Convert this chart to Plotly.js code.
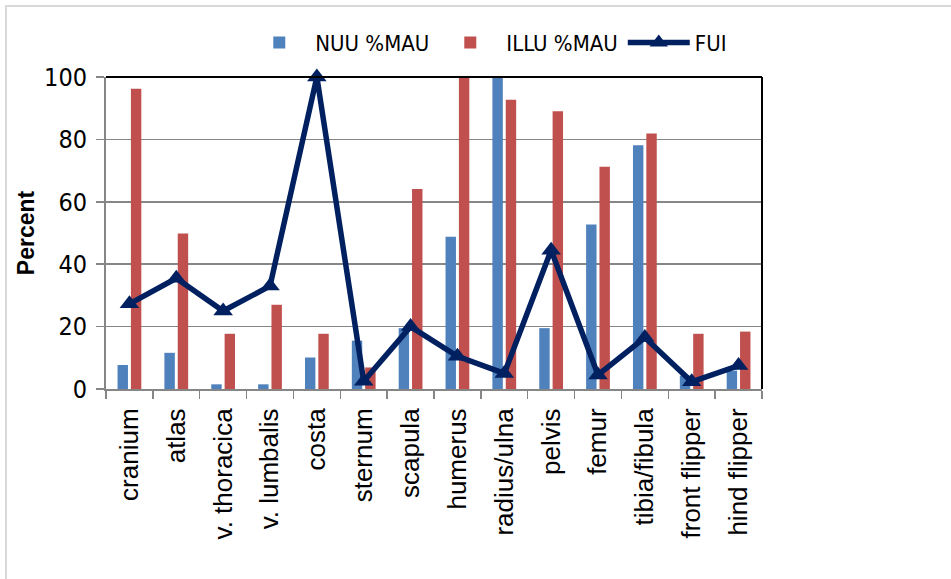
<!DOCTYPE html>
<html>
<head>
<meta charset="utf-8">
<script src="https://cdn.plot.ly/plotly-3.0.1.min.js"></script>
<style>
html,body{margin:0;padding:0;background:#fff;}
#chart{width:951px;height:579px;}
</style>
</head>
<body>
<div id="chart"></div>
<script>
const categories = ["cranium","atlas","v. thoracica","v. lumbalis","costa","sternum","scapula","humerus","radius/ulna","pelvis","femur","tibia/fibula","front flipper","hind flipper"];
const nuuMAU  = [7.7, 11.6, 1.5, 1.5, 10.1, 15.5, 19.5, 48.8, 100, 19.5, 52.7, 78.1, 4.3, 5.9];
const illuMAU = [96.2, 49.8, 17.7, 27.0, 17.7, 6.9, 64.1, 100, 92.7, 89.0, 71.2, 81.9, 17.7, 18.4];
const fui     = [27.3, 35.5, 25.0, 33.0, 100, 2.5, 20.0, 10.5, 5.0, 44.5, 4.5, 16.5, 2.3, 7.5];
const yTicks  = [0, 20, 40, 60, 80, 100];

const traces = [
  {type:'bar', name:'NUU %MAU', x:categories, y:nuuMAU, marker:{color:'#4F81BD'}},
  {type:'bar', name:'ILLU %MAU', x:categories, y:illuMAU, marker:{color:'#C0504D'}},
  {type:'scatter', mode:'lines+markers', name:'FUI', x:categories, y:fui,
   line:{color:'#002060', width:5.5}, marker:{symbol:'triangle-up', size:17, color:'#002060'},
   cliponaxis:false}
];

const layout = {
  width:951, height:579,
  margin:{l:106, r:189, t:77, b:190},
  paper_bgcolor:'#fff', plot_bgcolor:'#fff',
  barmode:'group', bargap:0.43, bargroupgap:0.22,
  showlegend:true,
  legend:{orientation:'h', x:0.582, xanchor:'center', y:1.11, yanchor:'middle',
    bgcolor:'rgba(0,0,0,0)',
    font:{family:'Liberation Sans Narrow, DejaVu Sans Condensed, sans-serif', size:22, color:'#000'},
    traceorder:'normal', itemwidth:62},
  xaxis:{type:'category', range:[-0.5, categories.length-0.5], tickson:'boundaries', ticks:'outside', ticklen:8, tickwidth:1.5, tickcolor:'#868686',
    showline:true, linecolor:'#868686', linewidth:2, showgrid:false, tickangle:-90,
    ticklabelstandoff:7,
    tickfont:{family:'Liberation Sans, Arial, sans-serif', size:26, color:'#000'}},
  yaxis:{range:[0,100], tickvals:yTicks, ticktext:yTicks.map(String), ticks:'outside', ticklen:8, tickwidth:1.5, tickcolor:'#868686',
    showline:true, linecolor:'#868686', linewidth:2, showgrid:true, gridcolor:'#868686', gridwidth:1.5, zeroline:false,
    ticklabelstandoff:4,
    tickfont:{family:'Liberation Sans Narrow, DejaVu Sans Condensed, sans-serif', size:25, color:'#000'},
    title:{text:'<b>Percent</b>', standoff:3, font:{family:'Liberation Sans, Arial, sans-serif', size:23, color:'#000'}}},
  shapes:[
    {type:'line', xref:'paper', yref:'paper', x0:0, x1:1, y0:1, y1:1, line:{color:'#000', width:2}},
    {type:'line', xref:'paper', yref:'paper', x0:1, x1:1, y0:0, y1:1, line:{color:'#000', width:2}}
  ]
};

Plotly.newPlot('chart', traces, layout, {displayModeBar:false, staticPlot:true}).then(function(){
  const svg = document.querySelector('#chart .main-svg');
  const ns = 'http://www.w3.org/2000/svg';
  const g = document.createElementNS(ns,'g');
  const l1 = document.createElementNS(ns,'line');
  l1.setAttribute('x1',5); l1.setAttribute('y1',6); l1.setAttribute('x2',951); l1.setAttribute('y2',6);
  const l2 = document.createElementNS(ns,'line');
  l2.setAttribute('x1',6); l2.setAttribute('y1',5); l2.setAttribute('x2',6); l2.setAttribute('y2',579);
  [l1,l2].forEach(l=>{l.setAttribute('stroke','#D9D9D9'); l.setAttribute('stroke-width',2); g.appendChild(l);});
  svg.appendChild(g);
});
</script>
</body>
</html>
